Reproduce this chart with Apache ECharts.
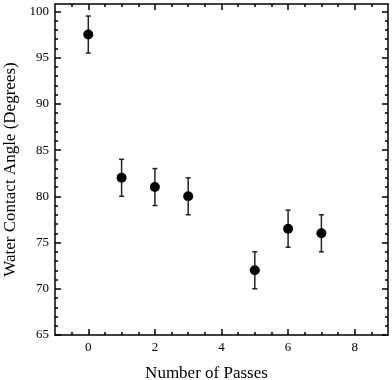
<!DOCTYPE html>
<html>
<head>
<meta charset="utf-8">
<script src="https://cdn.jsdelivr.net/npm/echarts@6/dist/echarts.min.js"></script>
<style>
  html, body { margin: 0; padding: 0; background: #fff; }
  #main { width: 392px; height: 380px; }
</style>
</head>
<body>
<div id="main"></div>
<script>
var passes = [0, 1, 2, 3, 5, 6, 7];
var angle = [97.5, 82, 81, 80, 72, 76.5, 76];
var angleErr = [2, 2, 2, 2, 2, 2, 2];

var xMajor = [0, 2, 4, 6, 8];
var xMinor = [-0.5, 0.5, 1, 1.5, 2.5, 3, 3.5, 4.5, 5, 5.5, 6.5, 7, 7.5, 8.5];
var yMajor = [65, 70, 75, 80, 85, 90, 95, 100];
var yMinor = [66, 67, 68, 69, 71, 72, 73, 74, 76, 77, 78, 79, 81, 82, 83, 84,
              86, 87, 88, 89, 91, 92, 93, 94, 96, 97, 98, 99];

var chart = echarts.init(document.getElementById('main'));
var font = '"Liberation Serif", "DejaVu Serif", serif';

function makeAxis(dim, pos, ticks, len, withLine, withLabel) {
  var ax = {
    type: 'value',
    position: pos,
    min: dim === 'x' ? -1 : 65,
    max: dim === 'x' ? 9 : 100.8,
    splitLine: { show: false },
    axisLine: { show: withLine, onZero: false, lineStyle: { color: '#000', width: 1.5 } },
    axisTick: { show: true, inside: true, length: len, customValues: ticks,
                lineStyle: { color: '#000', width: 1.5 } },
    axisLabel: { show: withLabel, customValues: ticks, color: '#000',
                 fontFamily: font, fontSize: 13, margin: 6 }
  };
  return ax;
}

var xAxes = [
  makeAxis('x', 'bottom', xMajor, 6, true, true),
  makeAxis('x', 'bottom', xMinor, 3, false, false),
  makeAxis('x', 'top', xMajor, 6, true, false),
  makeAxis('x', 'top', xMinor, 3, false, false)
];
xAxes[0].name = 'Number of Passes';
xAxes[0].nameLocation = 'middle';
xAxes[0].nameGap = 30;
xAxes[0].nameTextStyle = { fontFamily: font, fontSize: 17, color: '#000', padding: [0, 30, 0, 0] };

var yAxes = [
  makeAxis('y', 'left', yMajor, 6, true, true),
  makeAxis('y', 'left', yMinor, 3, false, false),
  makeAxis('y', 'right', yMajor, 6, true, false),
  makeAxis('y', 'right', yMinor, 3, false, false)
];
yAxes[0].axisLabel.margin = 6;
yAxes[0].name = 'Water Contact Angle (Degrees)';
yAxes[0].nameLocation = 'middle';
yAxes[0].nameGap = 34;
yAxes[0].nameTextStyle = { fontFamily: font, fontSize: 17, color: '#000' };

var points = passes.map(function (p, i) { return [p, angle[i]]; });
var bars = passes.map(function (p, i) { return [p, angle[i] - angleErr[i], angle[i] + angleErr[i]]; });

chart.setOption({
  animation: false,
  grid: { left: 55, right: 4, top: 4, bottom: 45, containLabel: false, outerBoundsMode: 'none' },
  xAxis: xAxes,
  yAxis: yAxes,
  series: [{
    type: 'custom',
    data: bars,
    renderItem: function (params, api) {
      var top = api.coord([api.value(0), api.value(2)]);
      var bot = api.coord([api.value(0), api.value(1)]);
      var w = 2.5;
      var style = { stroke: '#222', lineWidth: 1.5 };
      return {
        type: 'group',
        children: [
          { type: 'line', shape: { x1: top[0], y1: top[1], x2: bot[0], y2: bot[1] }, style: style },
          { type: 'line', shape: { x1: top[0] - w, y1: top[1], x2: top[0] + w, y2: top[1] }, style: style },
          { type: 'line', shape: { x1: bot[0] - w, y1: bot[1], x2: bot[0] + w, y2: bot[1] }, style: style }
        ]
      };
    },
    z: 2
  }, {
    type: 'scatter',
    data: points,
    symbol: 'circle',
    symbolSize: 10,
    itemStyle: { color: '#000', opacity: 1 },
    z: 3
  }]
});
</script>
</body>
</html>
